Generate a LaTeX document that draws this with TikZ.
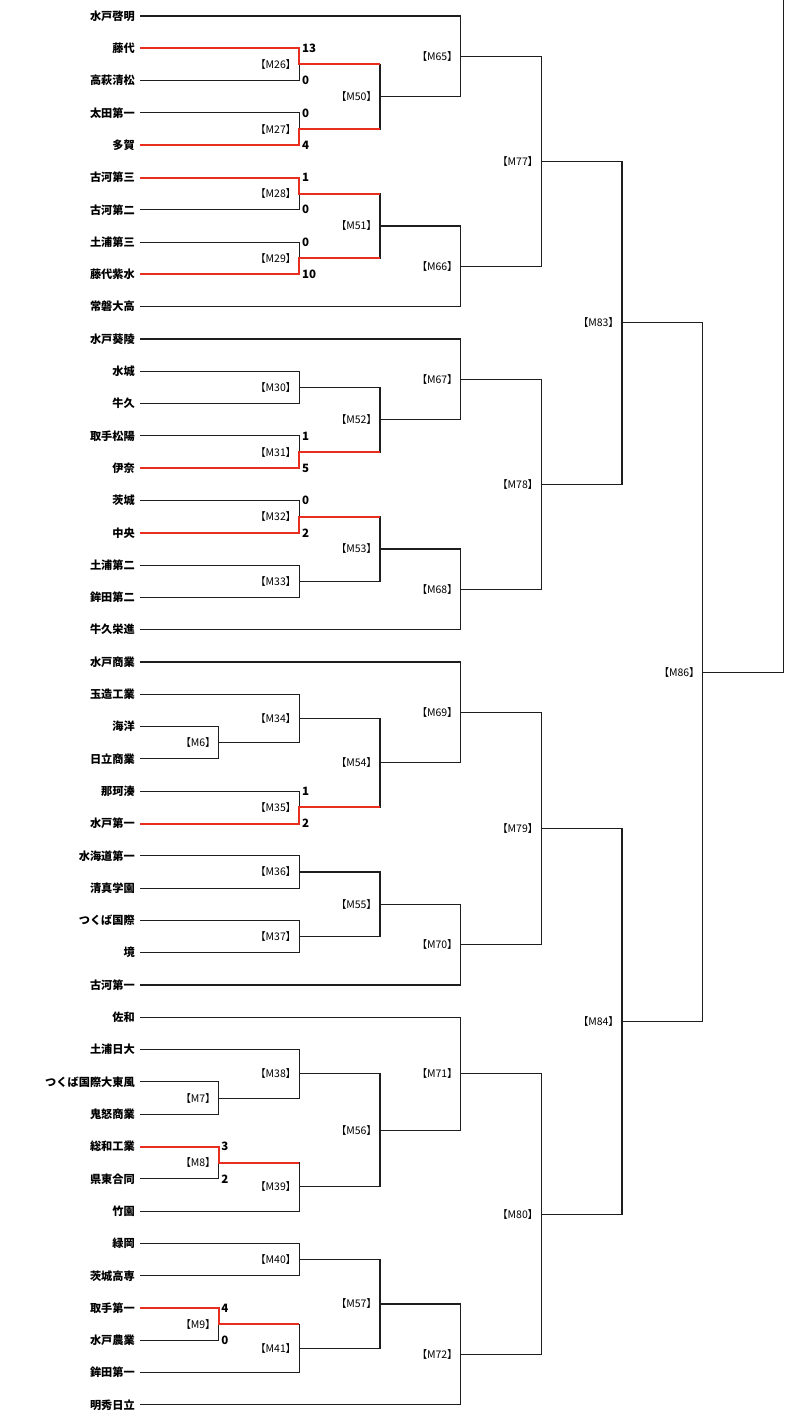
\documentclass[tikz,border=0pt]{standalone}
\usepackage{fontspec}
\newfontfamily\jp{Noto Sans CJK JP}
\newfontfamily\jpp[RawFeature=+palt]{Noto Sans CJK JP}
\usetikzlibrary{calc}
\definecolor{winred}{RGB}{232,46,30}
\definecolor{lncol}{RGB}{30,30,30}
% match: name, child A, child B, column
\newcommand\match[4]{%
  \coordinate (#1h) at ($(#2)!.5!(#3)$);
  \coordinate (#1) at (#1h -| #4);
  \draw[ln] (#2) -| (#1);
  \draw[ln] (#3) -| (#1);
  \node[lbl] (L#1) at ($(#1)+(-8,0)$) {【#1】};}
\newcommand\myscore[4]{\node[sco] (#1) at ($(#2 -| #3)+(2.5,0)$) {#4};}
\begin{document}
\begin{tikzpicture}[x=1pt,y=-1pt,
  team/.style={anchor=east,inner xsep=5pt,inner ysep=0pt,text=black,
    font=\jp\bfseries\fontsize{11.2}{13}\selectfont},
  lbl/.style={anchor=east,inner sep=0pt,text=black,
    font=\jpp\fontsize{10.5}{12}\selectfont},
  sco/.style={anchor=west,inner sep=0pt,text=black,
    font=\jp\bfseries\fontsize{11.5}{13}\selectfont},
  ln/.style={draw=lncol,line width=1.1pt},
  win/.style={draw=winred,line width=2pt}]
\useasboundingbox (0,0) rectangle (800,1418);
\fill[white] (0,0) rectangle (800,1418);
% columns
\coordinate (c1) at (218.7,0);
\coordinate (c2) at (299.3,0);
\coordinate (c3) at (380,0);
\coordinate (c4) at (460.7,0);
\coordinate (c5) at (541.3,0);
\coordinate (c6) at (622,0);
\coordinate (c7) at (702.7,0);
\coordinate (c8) at (783.3,0);
% teams
\foreach \n [count=\i] in {水戸啓明,藤代,高萩清松,太田第一,多賀,古河第三,古河第二,土浦第三,藤代紫水,常磐大高,水戸葵陵,水城,牛久,取手松陽,伊奈,茨城,中央,土浦第二,鉾田第二,牛久栄進,水戸商業,玉造工業,海洋,日立商業,那珂湊,水戸第一,水海道第一,清真学園,つくば国際,境,古河第一,佐和,土浦日大,つくば国際大東風,鬼怒商業,総和工業,県東合同,竹園,緑岡,茨城高専,取手第一,水戸農業,鉾田第一,明秀日立}
  \node[team] (t\i) at (140,{16+(\i-1)*32.3}) {\n};
% round 1
\match{M6}{t23.east}{t24.east}{c1}
\match{M7}{t34.east}{t35.east}{c1}
\match{M8}{t36.east}{t37.east}{c1}
\match{M9}{t41.east}{t42.east}{c1}
% round 2
\match{M26}{t2.east}{t3.east}{c2}
\match{M27}{t4.east}{t5.east}{c2}
\match{M28}{t6.east}{t7.east}{c2}
\match{M29}{t8.east}{t9.east}{c2}
\match{M30}{t12.east}{t13.east}{c2}
\match{M31}{t14.east}{t15.east}{c2}
\match{M32}{t16.east}{t17.east}{c2}
\match{M33}{t18.east}{t19.east}{c2}
\match{M34}{t22.east}{M6}{c2}
\match{M35}{t25.east}{t26.east}{c2}
\match{M36}{t27.east}{t28.east}{c2}
\match{M37}{t29.east}{t30.east}{c2}
\match{M38}{t33.east}{M7}{c2}
\match{M39}{M8}{t38.east}{c2}
\match{M40}{t39.east}{t40.east}{c2}
\match{M41}{M9}{t43.east}{c2}
% round 3
\match{M50}{M26}{M27}{c3}
\match{M51}{M28}{M29}{c3}
\match{M52}{M30}{M31}{c3}
\match{M53}{M32}{M33}{c3}
\match{M54}{M34}{M35}{c3}
\match{M55}{M36}{M37}{c3}
\match{M56}{M38}{M39}{c3}
\match{M57}{M40}{M41}{c3}
% round 4
\match{M65}{t1.east}{M50}{c4}
\match{M66}{M51}{t10.east}{c4}
\match{M67}{t11.east}{M52}{c4}
\match{M68}{M53}{t20.east}{c4}
\match{M69}{t21.east}{M54}{c4}
\match{M70}{M55}{t31.east}{c4}
\match{M71}{t32.east}{M56}{c4}
\match{M72}{M57}{t44.east}{c4}
% round 5
\match{M77}{M65}{M66}{c5}
\match{M78}{M67}{M68}{c5}
\match{M79}{M69}{M70}{c5}
\match{M80}{M71}{M72}{c5}
% round 6
\match{M83}{M77}{M78}{c6}
\match{M84}{M79}{M80}{c6}
% round 7
\match{M86}{M83}{M84}{c7}
\coordinate (F) at (783.3,-2);
\draw[ln] (M86) -| (F);
% winners
\draw[win] (t2.east) -| (M26) -- (M26 -| c3);
\draw[win] (t5.east) -| (M27) -- (M27 -| c3);
\draw[win] (t6.east) -| (M28) -- (M28 -| c3);
\draw[win] (t9.east) -| (M29) -- (M29 -| c3);
\draw[win] (t15.east) -| (M31) -- (M31 -| c3);
\draw[win] (t17.east) -| (M32) -- (M32 -| c3);
\draw[win] (t26.east) -| (M35) -- (M35 -| c3);
\draw[win] (t36.east) -| (M8) -- (M8 -| c2);
\draw[win] (t41.east) -| (M9) -- (M9 -| c2);
% scores
\myscore{s2}{t2.east}{c2}{13}
\myscore{s3}{t3.east}{c2}{0}
\myscore{s4}{t4.east}{c2}{0}
\myscore{s5}{t5.east}{c2}{4}
\myscore{s6}{t6.east}{c2}{1}
\myscore{s7}{t7.east}{c2}{0}
\myscore{s8}{t8.east}{c2}{0}
\myscore{s9}{t9.east}{c2}{10}
\myscore{s14}{t14.east}{c2}{1}
\myscore{s15}{t15.east}{c2}{5}
\myscore{s16}{t16.east}{c2}{0}
\myscore{s17}{t17.east}{c2}{2}
\myscore{s25}{t25.east}{c2}{1}
\myscore{s26}{t26.east}{c2}{2}
\myscore{s36}{t36.east}{c1}{3}
\myscore{s37}{t37.east}{c1}{2}
\myscore{s41}{t41.east}{c1}{4}
\myscore{s42}{t42.east}{c1}{0}
\end{tikzpicture}
\end{document}
